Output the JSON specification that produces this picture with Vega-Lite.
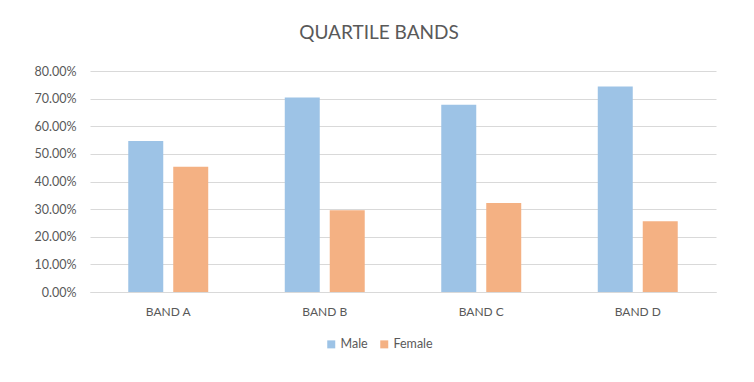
{
  "$schema": "https://vega.github.io/schema/vega-lite/v6.json",
  "width": 626,
  "height": 221,
  "autosize": {"type": "none"},
  "padding": {"left": 90, "top": 71, "right": 38, "bottom": 90},
  "background": "white",
  "title": {
    "text": "QUARTILE BANDS",
    "font": "Lato",
    "fontSize": 19,
    "fontWeight": "normal",
    "color": "#595959",
    "anchor": "middle",
    "dx": -24,
    "offset": 22
  },
  "data": {
    "values": [
      {"band": "BAND A", "gender": "Male", "share": 0.547},
      {"band": "BAND A", "gender": "Female", "share": 0.453},
      {"band": "BAND B", "gender": "Male", "share": 0.704},
      {"band": "BAND B", "gender": "Female", "share": 0.296},
      {"band": "BAND C", "gender": "Male", "share": 0.678},
      {"band": "BAND C", "gender": "Female", "share": 0.322},
      {"band": "BAND D", "gender": "Male", "share": 0.744},
      {"band": "BAND D", "gender": "Female", "share": 0.256}
    ]
  },
  "mark": {"type": "bar"},
  "encoding": {
    "x": {
      "field": "band",
      "type": "nominal",
      "title": null,
      "scale": {"paddingInner": 0.489, "paddingOuter": 0.2445},
      "axis": {
        "labelAngle": 0,
        "ticks": false,
        "domainColor": "#D9D9D9",
        "domainWidth": 1,
        "labelPadding": 14,
        "labelFont": "Lato",
        "labelFontSize": 12,
        "labelColor": "#595959"
      }
    },
    "xOffset": {
      "field": "gender",
      "type": "nominal",
      "sort": ["Male", "Female"],
      "scale": {"paddingInner": 0.222, "paddingOuter": 0}
    },
    "y": {
      "field": "share",
      "type": "quantitative",
      "title": null,
      "scale": {"domain": [0, 0.8], "nice": false},
      "axis": {
        "format": ".2%",
        "values": [0, 0.1, 0.2, 0.3, 0.4, 0.5, 0.6, 0.7, 0.8],
        "ticks": false,
        "domain": false,
        "gridColor": "#D9D9D9",
        "gridWidth": 1,
        "labelPadding": 14,
        "labelFont": "Lato",
        "labelFontSize": 12.5,
        "labelColor": "#595959"
      }
    },
    "color": {
      "field": "gender",
      "type": "nominal",
      "sort": ["Male", "Female"],
      "scale": {"domain": ["Male", "Female"], "range": ["#9DC3E6", "#F4B183"]},
      "legend": {
        "title": null,
        "orient": "none",
        "direction": "horizontal",
        "legendX": 235,
        "legendY": 267,
        "symbolType": "square",
        "symbolSize": 64,
        "symbolStrokeWidth": 0,
        "labelFont": "Lato",
        "labelFontSize": 12.5,
        "labelColor": "#595959",
        "labelOffset": 3,
        "columnPadding": 10
      }
    }
  },
  "config": {
    "view": {"stroke": null}
  }
}
